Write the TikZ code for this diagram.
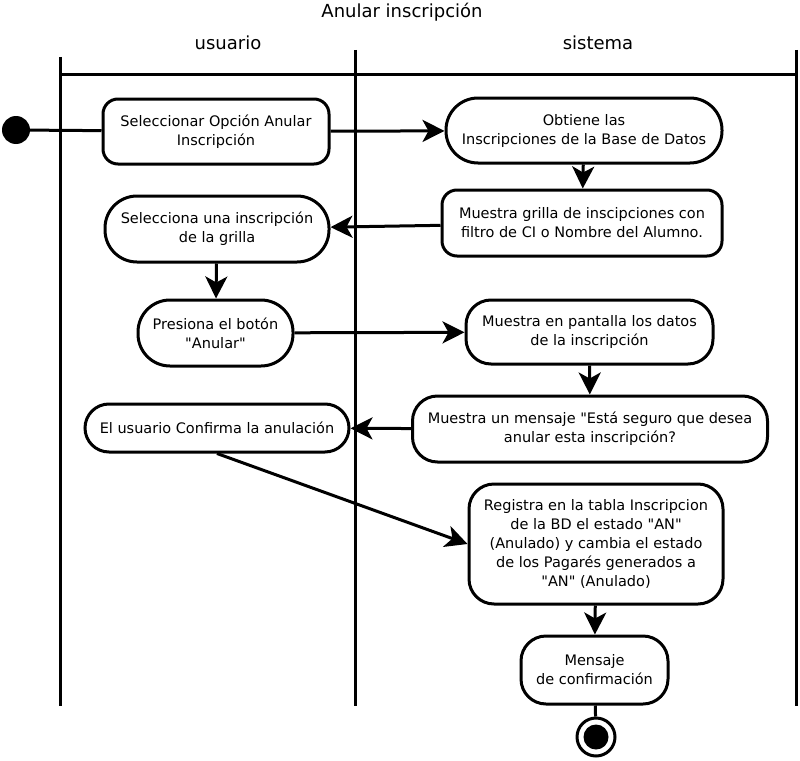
\documentclass[tikz,border=0pt]{standalone}
\usepackage{fontspec}
\setmainfont{DejaVu Sans}[Ligatures=TeXOff]
\usetikzlibrary{arrows.meta}
\begin{document}
\begin{tikzpicture}[x=1pt,y=-1pt,
    accion/.style={draw, line width=3pt, align=center, inner sep=0pt,
      font=\fontsize{14.5}{19}\selectfont},
    flecha/.style={line width=3pt, -{Stealth[length=22pt,width=22pt,inset=6pt]}},
    linea/.style={line width=3pt}]
  \useasboundingbox (0,0) rectangle (800,760);
  % Title and lane headers
  \node (titulo) at (402,12) {\fontsize{18}{20}\selectfont Anular inscripción};
  \node (usuario) at (228,43) {\fontsize{18}{20}\selectfont usuario};
  \node (sistema) at (598,43) {\fontsize{18}{20}\selectfont sistema};
  % Swimlane lines
  \draw [linea] (60,57) -- (60,706);
  \draw [linea] (355,50) -- (355,706);
  \draw [linea] (796,50) -- (796,706);
  \draw [linea] (60,74) -- (796,74);

  % Start and end points
  \fill (16,130) circle (14);
  \node [circle, draw, line width=3pt, fill=white, minimum size=38pt, inner sep=0pt] (fin) at (596,737) {};
  \fill (fin) circle (12.5);

  % Actions
  \node [accion, rounded corners=15pt, minimum width=226pt, minimum height=65pt] (selopcion) at (216,131.5)
    {Seleccionar Opción Anular\\Inscripción};
  \node [accion, rounded corners=32pt, minimum width=276pt, minimum height=65pt] (obtiene) at (584,130.5)
    {Obtiene las\\Inscripciones de la Base de Datos};
  \node [accion, rounded corners=15pt, minimum width=280pt, minimum height=66pt] (grilla) at (582,223)
    {Muestra grilla de inscipciones con\\filtro de CI o Nombre del Alumno.};
  \node [accion, rounded corners=32pt, minimum width=224pt, minimum height=66pt] (selinsc) at (217,229)
    {Selecciona una inscripción\\de la grilla};
  \node [accion, rounded corners=32pt, minimum width=155pt, minimum height=66pt] (presiona) at (215.5,333)
    {Presiona el botón\\"Anular"};
  \node [accion, rounded corners=25pt, minimum width=247pt, minimum height=64pt] (datos) at (589.5,332)
    {Muestra en pantalla los datos\\de la inscripción};
  \node [accion, rounded corners=25pt, minimum width=355pt, minimum height=66pt] (mensaje) at (590,429)
    {Muestra un mensaje "Está seguro que desea\\anular esta inscripción?};
  \node [accion, rounded corners=24pt, minimum width=264pt, minimum height=48pt] (confirma) at (217,428)
    {El usuario Confirma la anulación};
  \node [accion, rounded corners=25pt, minimum width=254pt, minimum height=120pt] (registra) at (596,544)
    {Registra en la tabla Inscripcion\\de la BD el estado "AN"\\(Anulado) y cambia el estado\\de los Pagarés generados a\\"AN" (Anulado)};
  \node [accion, rounded corners=25pt, minimum width=147pt, minimum height=68pt] (confirmacion) at (594.5,670)
    {Mensaje\\de confirmación};

  % Transitions
  \draw [linea] (16,130) -- (selopcion);
  \draw [flecha] (selopcion) -- (obtiene);
  \draw [flecha] (obtiene) -- (grilla);
  \draw [flecha] (grilla) -- (selinsc);
  \draw [flecha] (selinsc) -- (presiona);
  \draw [flecha] (presiona) -- (datos);
  \draw [flecha] (datos) -- (mensaje);
  \draw [flecha] (mensaje) -- (confirma);
  \draw [flecha] (confirma.south) -- (registra.west);
  \draw [flecha] (registra) -- (confirmacion);
  \draw [linea] (confirmacion) -- (fin);
\end{tikzpicture}
\end{document}
